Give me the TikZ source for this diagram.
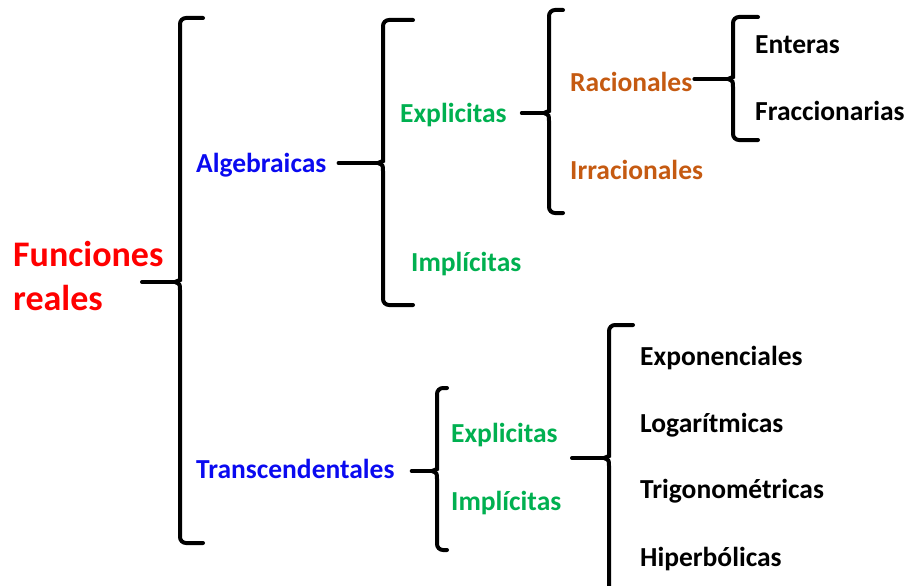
\documentclass[tikz,border=0pt]{standalone}
\usepackage{fontspec}
\setmainfont{Carlito}
\usetikzlibrary{calc}
\definecolor{rojo}{HTML}{FF0000}
\definecolor{azul}{HTML}{0A0AF0}
\definecolor{verde}{HTML}{00B050}
\definecolor{naranja}{HTML}{C55A11}

\tikzset{
  llave/.style={line width=4pt, line cap=round},
  txt/.style={anchor=base west, inner sep=0pt, font=\bfseries\fontsize{27.5}{33}\selectfont},
}

% llave: x, arriba, punta, abajo, brazo
\newcommand{\llave}[5]{%
  \draw[llave] (#1+#5,#2) [rounded corners=6pt] -- (#1,#2) -- (#1,#3-8) [sharp corners]
    .. controls (#1,#3-2) .. (#1-5,#3) .. controls (#1,#3+2) .. (#1,#3+8)
    [rounded corners=6pt] -- (#1,#4) -- (#1+#5,#4);}

\begin{document}
\begin{tikzpicture}[x=1pt, y=-1pt]
  \useasboundingbox (0,0) rectangle (910,586);
  \clip (0,0) rectangle (910,586);

  %titulo
  \node[anchor=west, align=left, inner sep=0pt, rojo,
        font=\bfseries\fontsize{36}{44}\selectfont] (fr) at (13,276) {Funciones\\reales};

  %primer nivel
  \node[txt, azul] (alg) at (196,172) {Algebraicas};
  \node[txt, azul] (tra) at (196,478) {Transcendentales};

  %algebraicas
  \node[txt, verde] (exa) at (400,122) {Explicitas};
  \node[txt, verde] (ima) at (411,271) {Implícitas};
  \node[txt, naranja] (rac) at (570,92) {Racionales};
  \node[txt, naranja] (irr) at (570,179) {Irracionales};
  \node[txt] (ent) at (755,53) {Enteras};
  \node[txt] (fra) at (755,120) {Fraccionarias};

  %transcendentales
  \node[txt, verde] (ext) at (451,442) {Explicitas};
  \node[txt, verde] (imt) at (451,510) {Implícitas};
  \node[txt] (exp) at (640,365) {Exponenciales};
  \node[txt] (log) at (640,432) {Logarítmicas};
  \node[txt] (tri) at (640,498) {Trigonométricas};
  \node[txt] (hip) at (640,566) {Hiperbólicas};

  %puntas de las llaves
  \coordinate (t1) at (175,282);
  \coordinate (t2) at (378,163);
  \coordinate (t3) at (544,113);
  \coordinate (t4) at (728,79);
  \coordinate (t5) at (432,471);
  \coordinate (t6) at (604,458);
  \coordinate (s1) at (142,282);
  \coordinate (s6) at (572,458);

  %llaves
  \llave{180}{18}{282}{543}{23}
  \llave{383}{20}{163}{305}{30}
  \llave{549}{10}{113}{213}{14}
  \llave{733}{17}{79}{140}{25}
  \llave{437}{388}{471}{550}{10}
  \llave{609}{325}{458}{600}{24}

  %tallos
  \draw[llave] (s1) -- (t1);
  \draw[llave, shorten <=12pt] (alg.east |- t2) -- (t2);
  \draw[llave, shorten <=15pt] (exa.east |- t3) -- (t3);
  \draw[llave, shorten <=2pt] (rac.east |- t4) -- (t4);
  \draw[llave, shorten <=17pt] (tra.east |- t5) -- (t5);
  \draw[llave] (s6) -- (t6);
\end{tikzpicture}
\end{document}
